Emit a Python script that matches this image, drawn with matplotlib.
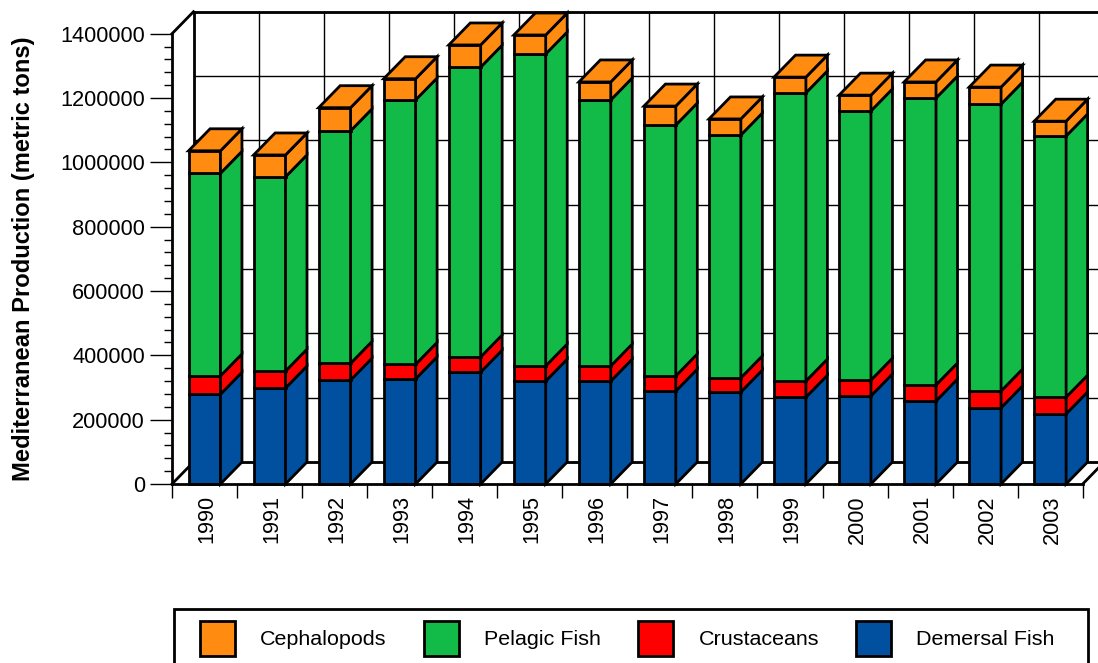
import matplotlib
matplotlib.use('Agg')
import matplotlib.pyplot as plt
import matplotlib.patches as patches
from matplotlib.transforms import ScaledTranslation
import numpy as np

plt.rcParams['font.family'] = ['Liberation Sans', 'DejaVu Sans']

years = ['1990', '1991', '1992', '1993', '1994', '1995', '1996',
         '1997', '1998', '1999', '2000', '2001', '2002', '2003']
demersal = [279000, 298500, 323000, 327000, 348000, 320000, 320000,
            289000, 286000, 270000, 274000, 258000, 237000, 218000]
crustaceans = [57000, 52500, 52000, 45000, 47000, 47000, 47000,
               47000, 44000, 50000, 49000, 50000, 52000, 52000]
pelagic = [630000, 604000, 723000, 822000, 901000, 970000, 827000,
           780000, 755000, 896000, 837000, 892000, 892000, 812000]
cephalopods = [70000, 68000, 72000, 66000, 69000, 59000, 56000,
               59000, 50000, 49000, 49000, 50000, 53000, 46000]

series = [('Demersal Fish', demersal, '#00509F'),
          ('Crustaceans', crustaceans, '#FF0000'),
          ('Pelagic Fish', pelagic, '#12BB48'),
          ('Cephalopods', cephalopods, '#FF8B10')]

W, H = 1098, 663
left, right, base, top = 172, 1082.7, 484, 33.7
fig = plt.figure(figsize=(W / 100, H / 100), dpi=100)
ax = fig.add_axes([left / W, (H - base) / H, (right - left) / W, (base - top) / H])

n = len(years)
ymax = 1400000
ax.set_xlim(0, n)
ax.set_ylim(0, ymax)

# depth of the fake 3D box, in data units
depth_x = 21.5 / ((right - left) / n)
depth_y = 22 / ((base - top) / ymax)
bar_w = 0.49
LW = 2.0

# back wall and floor
for v in np.arange(0, ymax + 1, 200000):
    ax.plot([depth_x, n + depth_x], [v + depth_y, v + depth_y], color='black',
            lw=1.0, clip_on=False, zorder=1)
for i in range(1, n + 1):
    ax.plot([i + depth_x, i + depth_x], [depth_y, ymax + depth_y], color='black',
            lw=1.0, clip_on=False, zorder=1)
ax.plot([depth_x, depth_x], [depth_y, ymax + depth_y], color='black', lw=LW, clip_on=False, zorder=1)
ax.plot([depth_x, n + depth_x], [ymax + depth_y, ymax + depth_y], color='black', lw=LW, clip_on=False, zorder=1)
ax.plot([depth_x, n + depth_x], [depth_y, depth_y], color='black', lw=LW, clip_on=False, zorder=1)
ax.plot([0, depth_x], [0, depth_y], color='black', lw=LW, clip_on=False, zorder=1)
ax.plot([0, depth_x], [ymax, ymax + depth_y], color='black', lw=LW, clip_on=False, zorder=1)
ax.plot([n, n + depth_x], [0, depth_y], color='black', lw=LW, clip_on=False, zorder=1)

# stacked bars with side and top faces
centers = np.arange(n) + 0.5
bottom = np.zeros(n)
for name, values, color in series:
    values = np.array(values)
    ax.bar(centers, values, bar_w, bottom=bottom, color=color, edgecolor='black',
           linewidth=LW, zorder=3, clip_on=False, label=name)
    for i in range(n):
        xr = centers[i] + bar_w / 2
        y0, y1 = bottom[i], bottom[i] + values[i]
        side = [(xr, y0), (xr + depth_x, y0 + depth_y), (xr + depth_x, y1 + depth_y), (xr, y1)]
        ax.add_patch(patches.Polygon(side, closed=True, facecolor=color, edgecolor='black',
                                     linewidth=LW, zorder=3, clip_on=False))
    bottom = bottom + values

for i in range(n):
    xl = centers[i] - bar_w / 2
    xr = centers[i] + bar_w / 2
    y1 = bottom[i]
    roof = [(xl, y1), (xr, y1), (xr + depth_x, y1 + depth_y), (xl + depth_x, y1 + depth_y)]
    ax.add_patch(patches.Polygon(roof, closed=True, facecolor=series[-1][2], edgecolor='black',
                                 linewidth=LW, zorder=3, clip_on=False))

# axes
ax.spines['top'].set_visible(False)
ax.spines['right'].set_visible(False)
ax.spines['left'].set_linewidth(LW)
ax.spines['bottom'].set_linewidth(LW)
ax.spines['left'].set_zorder(5)
ax.spines['bottom'].set_zorder(5)

yticks = np.arange(0, ymax + 1, 200000)
ax.set_yticks(yticks)
ax.set_yticklabels([str(v) for v in yticks])
ax.set_yticks(np.arange(0, ymax + 1, 40000), minor=True)
ax.tick_params(axis='y', which='major', length=15.8, width=1.0, labelsize=15.7, pad=3.6)
ax.tick_params(axis='y', which='minor', length=5.8, width=1.0)

ax.set_xticks(np.arange(n + 1))
ax.set_xticklabels([])
ax.set_xticks(centers, minor=True)
ax.set_xticklabels(years, minor=True, rotation=90, fontsize=15.7)
ax.tick_params(axis='x', which='major', length=10, width=1.0)
ax.tick_params(axis='x', which='minor', length=0, pad=8)

# year labels sit a little right of the bar centres
shift = ScaledTranslation(1.5 / 72, 0, fig.dpi_scale_trans)
for lab in ax.get_xticklabels(minor=True):
    lab.set_transform(lab.get_transform() + shift)

ax.set_ylabel('Mediterranean Production (metric tons)', fontsize=17.1, fontweight='bold')
ax.yaxis.set_label_coords(-0.1507, 0.5)

# legend box runs to the bottom of the figure
fig.add_artist(patches.Rectangle((173.5 / W, (H - 664) / H), (1088 - 173.5) / W, 55.5 / H,
                                 transform=fig.transFigure, facecolor='white', edgecolor='black',
                                 linewidth=LW, clip_on=False))
handles, labels = ax.get_legend_handles_labels()
fs = 15.45
px = fs * 100 / 72
leg = fig.legend(handles[::-1], labels[::-1], ncols=4, frameon=False, fontsize=fs,
                 loc='center left', bbox_to_anchor=(200 / W, (H - 638.5) / H),
                 borderpad=0, borderaxespad=0, handlelength=35 / px, handleheight=2.157,
                 handletextpad=25 / px, columnspacing=37.5 / px)

fig.savefig('out.png', dpi=100)
